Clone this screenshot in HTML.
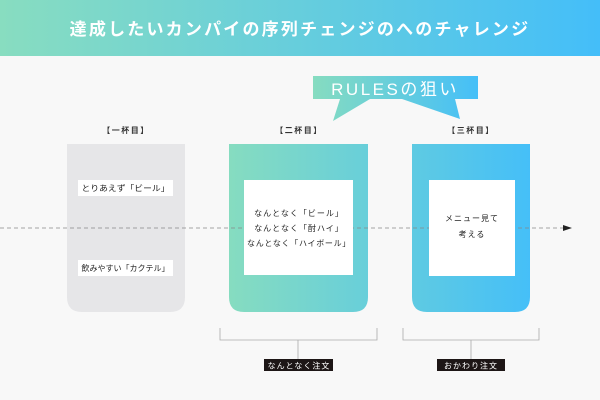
<!DOCTYPE html>
<html><head><meta charset="utf-8"><style>
html,body{margin:0;padding:0;width:600px;height:400px;overflow:hidden;background:#f8f8f8}
svg{display:block}
text{font-family:"Liberation Sans","Noto Sans CJK JP",sans-serif}
</style></head><body>
<svg width="600" height="400" viewBox="0 0 600 400" xmlns="http://www.w3.org/2000/svg">
<defs>
<linearGradient id="hg" x1="0" x2="600" y1="0" y2="0" gradientUnits="userSpaceOnUse"><stop offset="0" stop-color="#88ddc0"/><stop offset="1" stop-color="#44bef9"/></linearGradient>
<linearGradient id="cg" x1="229" x2="530" y1="0" y2="0" gradientUnits="userSpaceOnUse"><stop offset="0" stop-color="#86dcc0"/><stop offset="1" stop-color="#45bff8"/></linearGradient>
<linearGradient id="bg2" x1="313" x2="478" y1="0" y2="0" gradientUnits="userSpaceOnUse"><stop offset="0" stop-color="#86dcc0"/><stop offset="1" stop-color="#45bff8"/></linearGradient>
</defs>
<rect x="0" y="0" width="600" height="56" fill="url(#hg)"/>
<text x="300" y="35" text-anchor="middle" fill="#fff" font-size="17" font-weight="bold" letter-spacing="2.2">達成したいカンパイの序列チェンジのへのチャレンジ</text>
<polygon points="313,76 478,76 478,99 455,99 460,119 402,99 370,99 333,121 340,99 313,99" fill="url(#bg2)"/>
<text x="395" y="95" text-anchor="middle" fill="#fff" font-size="17" letter-spacing="2.5">RULESの狙い</text>
<g font-size="8" fill="#333" font-weight="bold" text-anchor="middle" letter-spacing="1.5">
<text x="126" y="133">【一杯目】</text>
<text x="299" y="133">【二杯目】</text>
<text x="471" y="133">【三杯目】</text>
</g>
<path d="M67,144 H185 V297 Q185,312 170,312 H82 Q67,312 67,297 Z" fill="#e6e6e8"/>
<path d="M229,144 H368 V297 Q368,312 353,312 H244 Q229,312 229,297 Z" fill="url(#cg)"/>
<path d="M412,144 H530 V297 Q530,312 515,312 H427 Q412,312 412,297 Z" fill="url(#cg)"/>
<line x1="0" y1="228" x2="564" y2="228" stroke="#888" stroke-width="0.8" stroke-dasharray="4,3"/>
<polygon points="563,225 572,228 563,231" fill="#222"/>
<rect x="78" y="180" width="95" height="16" fill="#fff"/>
<rect x="78" y="260" width="95" height="16" fill="#fff"/>
<rect x="244" y="180" width="109" height="95" fill="#fff"/>
<rect x="429" y="180" width="86" height="96" fill="#fff"/>
<g font-size="8" fill="#222" text-anchor="middle">
<text x="125.5" y="191" textLength="88" lengthAdjust="spacingAndGlyphs">とりあえず「ビール」</text>
<text x="125.5" y="271" textLength="88" lengthAdjust="spacingAndGlyphs">飲みやすい「カクテル」</text>
<text x="299" y="216" letter-spacing="1">なんとなく「ビール」</text>
<text x="299" y="231" letter-spacing="1">なんとなく「酎ハイ」</text>
<text x="299" y="246" letter-spacing="0.7">なんとなく「ハイボール」</text>
<text x="472" y="221" letter-spacing="1">メニュー見て</text>
<text x="472" y="237" letter-spacing="1">考える</text>
</g>
<g stroke="#aaa" stroke-width="0.8" fill="none">
<path d="M220,328 V340 H377 V328 M298,340 V360"/>
<path d="M403,328 V340 H539 V328 M471,340 V360"/>
</g>
<rect x="264" y="359" width="69" height="12" fill="#1d1616"/>
<rect x="437" y="359" width="68" height="12" fill="#1d1616"/>
<g font-size="8" fill="#fff" text-anchor="middle" letter-spacing="1">
<text x="299" y="368.5">なんとなく注文</text>
<text x="471" y="368.5">おかわり注文</text>
</g>
</svg>
</body></html>
